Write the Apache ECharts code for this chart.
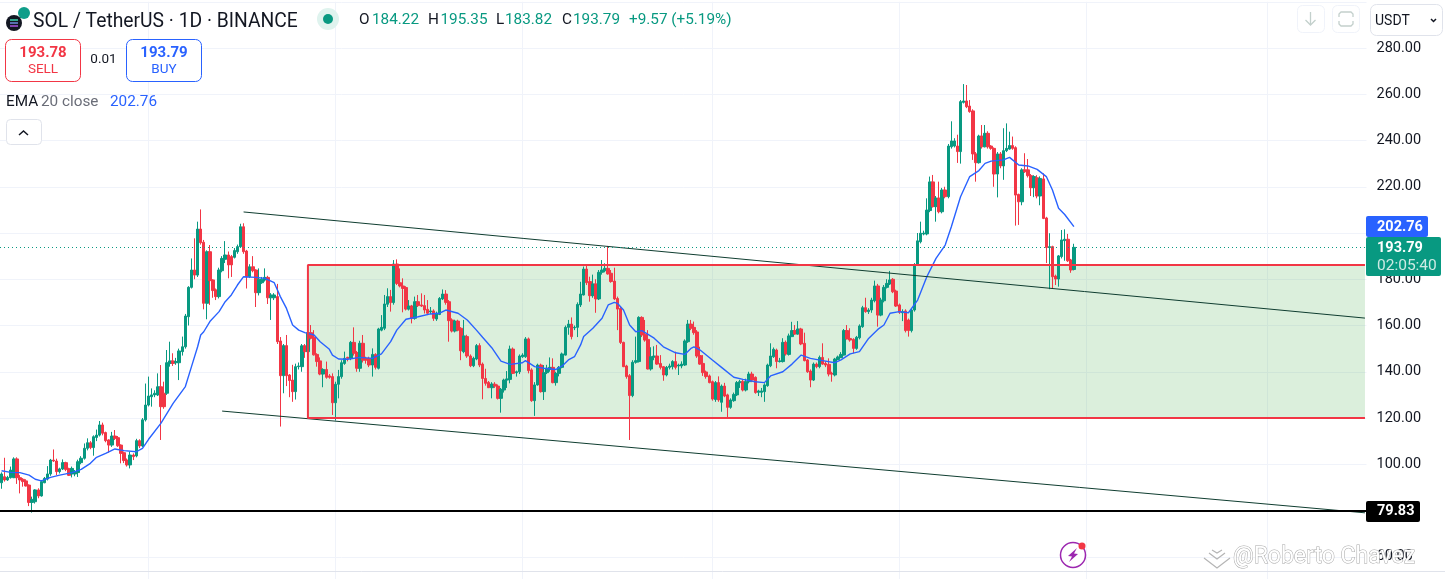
<!DOCTYPE html>
<html><head><meta charset="utf-8">
<style>html,body{margin:0;padding:0;background:#fff;overflow:hidden;width:1445px;height:579px}#c{width:1445px;height:640px}</style>
<script src="https://cdn.jsdelivr.net/npm/echarts@6/dist/echarts.min.js"></script>
</head><body><div id="c"></div>
<script>
// rows are [open, high, low, close]
const candlesJanFeb=[[92,96.5,89.4,95.8],[94.6,102.8,92.5,93.2],[93.2,95,92.8,94.3],[94.2,99,93.8,97.5],[94.2,103,94,102.3],[102.3,103,91.5,94.2],[94.2,95.3,87.4,93.2],[93.5,94,90.3,92.5],[92.8,93.5,90.4,90.6],[91,91.3,81.9,83.5],
[83.5,86,79.1,84.8],[83.8,89.2,83,88.9],[88.9,89.6,85.3,86.3],[86.3,93.2,86,92.5],[92,94.5,91.8,93.9],[93.6,99.2,93,95.8],[95.8,102.3,95,101.8],[101.8,106.4,101,101.4],[101.4,102.4,95.3,96.8],[96.8,98.5,96,98],
[98,102.1,97.5,100.7],[100.7,101.1,97,97.8],[98.1,98.5,94.9,95.2],[95.8,99,94.3,98.2],[95.8,97.5,94.8,96.4],[96.4,102,94.5,101.1],[100.7,103.5,100,102.6],[102.6,109,102,106.9],[106.9,111.2,106,109.3],[109.3,110,106.5,107.2],
[107.2,112.5,103.7,111.9],[111.6,115,110,112.6],[112.6,118.7,112,117],[117,118,112.5,113.4],[113.7,114.1,109.5,110.2],[110.5,110.8,105,108.3],[108.3,114,107.5,112.2],[112.2,114.8,110.5,111.2],[111.5,112.2,107.5,108],[108.3,108.6,100.4,104.7],
[105,105.5,100.5,101.6],[101.8,102.5,99,99.7],[99.7,105.4,98.2,104],[104,104.7,101.8,103.3],[103.6,111,103,110.2],[110.2,110.8,107,107.9],[107.9,120,107.5,119.2],[119.2,134.9,118.5,125.6]];
const candlesMarApr=[[125.6,137.9,125,129.5],[129.2,132.8,124.9,130],[130,132,129,130.7],[130,139.3,129.5,133.5],[133.5,142.9,110.5,124.9],[130.7,135.7,124,124.9],[130.7,149.4,130,143.9],[143.6,153,142.2,144.7],[144.7,148,142.5,143.6],[143.9,146,143,144.4],
[143.9,150,136.4,149],[148.7,155.2,147,150.8],[150.8,165,150,164.1],[163.8,177,160,176.5],[176.5,189,176,184],[184,197.7,180,181.8],[181.8,204.9,181,201.7],[201.7,210.2,195,195.8],[196,197,167,169.6],[169.6,192.5,162.7,191.9],
[191.9,194.8,168.9,179.4],[179.7,180,172,175.1],[175.4,176,171,172.5],[172.5,185,171.7,184],[183.7,190,183,189],[188.6,196.5,187,190.5],[190.5,192,180.4,186.2],[189.8,190.5,181,186.2],[189.5,193.5,189,192.4],[191.9,195,191,194.1],
[194.1,204,193.5,202.7],[202.7,204.2,191,191.9],[192.2,192.7,176,181.1],[181.1,186.5,180.5,185.4],[185.4,190,183,183.7],[184,184.3,168,174.2],[174.2,184.7,173,180],[178.5,181,178,180],[179.7,184.7,179,180.8],[180.8,181.5,169.3,172],
[172,174,162.4,173.2],[172,174,171,173.2],[172.5,178,152,153],[153.3,155,116.3,138.3],[138.3,152,130.7,151.3],[151.3,155.9,133.8,138.3],[138.6,139,129,136.2],[136.4,143,127,131.4],[131.4,143.5,128,142.2],[142.2,144,141,142.5],
[142.2,152,140,151.2],[151.2,152,146,148.7],[148.7,158,148,156.9],[156.9,160.2,154,154.5],[154.9,158,147,147.3],[147.5,148,142.2,144.4],[144.7,146.2,138.5,139],[139,141.5,133.3,141],[141,144.4,137,137.6],[138.2,139,137,137.6],[137.9,139.3,121.3,126.6]];
const candlesMayJun=[[126.6,135.7,118.9,134.6],[134.6,140.8,128.5,137.9],[137.9,145,137,143.9],[143.6,148.7,143,145.8],[146.2,146.5,144.5,145.8],[145.8,153.3,145,152.7],[152.7,159.2,147,148],[148.3,149,140,141.5],[141.5,153.4,140,152.3],[152.3,155.9,144,145],
[145.8,146.5,143.5,145],[145.8,146.5,142,142.9],[142.9,150.1,137.9,147.5],[147.5,148,141,141.9],[141.5,159,141,158.5],[158,164.5,157.5,159.2],[158.8,173.2,158,169.3],[169.2,176.1,168,172.5],[172.5,175.4,166,169.9],[169.9,188.3,169,186.6],
[186.6,188.6,177.5,178.2],[178.5,184.7,176.5,177.1],[177.1,180.4,165.7,176],[176.4,177,166.5,167.1],[167.1,171,166.5,168.4],[168.4,168.9,160.9,163.1],[163.1,172.5,162.5,170.3],[170.3,173.2,168,168.6],[168.9,173.9,168,168.4],[168.6,173.2,165.2,166.7],
[167,171,164.5,165.3],[165.9,168,165,166.3],[166.3,167,162,163.1],[162.8,166,162,165.3],[164.8,172.3,164.5,171.7],[171.5,175.6,171,173.6],[173.6,175.3,169,170],[170.3,171,153,162.1],[162.4,163.1,157,157.6],[157.6,162.5,157,161.9],
[161.9,162.5,157.5,158],[158.8,159.3,145,149.1],[148.7,162.4,148,155.5],[155.2,156,146,146.8],[146.8,147.5,142,142.6],[142.6,146.5,142,145.8],[145.5,152,145,151.3],[151.3,152.3,142,142.9],[143.3,144,128.1,137.1],[137.1,141.3,134,135],
[135.4,136,133,133.1],[133.1,135.5,128.5,134.7],[134.6,135.5,133,133.8],[133.8,134.5,128,128.5],[128.5,133,122.3,132.4],[132.1,137,131,136.4],[136.4,140.3,133,136.9],[136.7,151.3,135,149.8],[149.8,150.5,139,139.3],[139.6,140.5,137.9,140],[140,147.5,139,146.8]];
const candlesJulAug=[[146.5,148,146,147.2],[146.5,155,146,154.2],[154.2,154.8,139.3,140.5],[140.8,141.5,127,127.5],[127.5,135.5,120.9,134.3],[134.3,143.5,134,142.9],[142.9,143.5,131,131.4],[131.4,142.9,127.8,139.6],[139.6,143,139,141.5],[141,146.2,140,141.9],
[141.9,145.8,135,135.3],[135.3,140,134,139.3],[139.3,142.5,138,141.9],[141.9,148.3,141.5,147.7],[147.2,160,147,159.2],[159.2,162.4,156,160.6],[160.6,163.5,154,155.2],[159,160,158,159.2],[159.2,170,155,169.1],[168.9,178.9,168,173.6],
[173.2,185.5,173,184.4],[184.4,186,177.5,178.5],[179,181.1,170.3,172.9],[172.9,182,172,178],[178,180,165.5,171.5],[171.5,184,171,183],[183,188.3,182,184],[183.7,186.9,183,184.7],[184.7,194.4,182,182.3],[182.6,184,178.5,179],
[179.2,185,171,171.5],[171.7,172.5,158,167.1],[167.4,168,152,152.7],[152.7,153,142,142.2],[142.5,143,137,137.9],[138.3,139,110.5,129.7],[129.7,145,129,144.1],[144.1,155.2,143.5,144.8],[144.4,164,144,163.5],[163.5,164,155,155.9],
[156.2,162.4,153,153.7],[154,158,141,141.2],[141.2,150.6,140.5,146.5],[146.3,151,145,146.8],[146.8,151.6,143,143.3],[143.6,147.2,141,141.9],[142.2,142.5,136.1,138.6],[138.6,142.5,138,141.9],[141.9,143.5,141,142.5],[142.2,145,141,144.4],
[144.4,148.7,141,141.9],[142.5,143.5,138.6,142.9],[142.5,144.5,141.5,143.3],[142.9,154,142.5,153.3],[153,162.4,152.5,160.6],[160.6,162.4,158,158.8],[159.2,161.7,156,156.9],[157.2,158,146,146.8],[147,150.8,143,143.3],[143.6,147.2,138.2,139.6],
[139.9,140.5,137,137.9],[138.2,138.8,135,135.3]];
const candlesSepOct=[[135.7,136.2,127.5,128.2],[128,136,127,135.3],[135.3,138,127,127.8],[126.8,134.5,122.7,133.8],[133.8,135.2,129,129.5],[130,130.5,120.3,124.6],[124.6,128.5,124,127.8],[127.5,131,127,130.2],[130,136,129.5,135.3],[135.3,136.5,133,135.7],
[135.7,136.5,131.5,132.1],[132.1,137,131.5,135.7],[135.7,140,135,139],[139,140,135.5,136.4],[137.6,138,130.5,131],[131.1,132.2,129.5,131.7],[131.1,133,129,131.7],[131.4,135,127,134.3],[134,143.5,133.5,142.9],[142.6,152.3,142,146.8],
[146.5,150.5,146,149.7],[149.4,150,141.5,144.4],[144.4,146,144,144.7],[144.4,154.5,144,152.7],[152.7,153.5,147,147.7],[147.5,156.5,147,155.5],[155.2,161.6,155,157.8],[157.8,160.2,156,156.3],[156.3,161.9,156,158.5],[158.5,159,151.5,152],
[152.3,156.9,144.5,144.8],[145.1,145.5,139.5,140],[140.3,141,133.3,136.4],[136.4,144,136,143.3],[143.3,144,141.5,142.2],[142.2,147,141.5,146.2],[146.2,152.3,143,143.3],[143.6,144.5,142,142.9],[143.2,145.8,138,139],[139.3,140,135.7,139],
[138.6,146,138,145.5],[145.3,147,145,146.4],[146.1,148.5,146,147.5],[147.2,158.5,147,157.8],[157.8,160.2,154,154.2],[154.4,158.8,153,153.7],[154,154.5,148,150.1],[150.1,155.5,149.5,154.9],[154.7,160.5,154,159.8],[159.5,168.5,159,167.7],
[167.7,172,165.5,166],[166,167.5,165,166.7],[166.7,172,165.5,171],[170.7,179.4,170,177.1],[177.1,178,159.5,164.5],[164.5,172,164,171],[170.7,177.5,170,176.5],[176.5,180,176,178.2],[178,183.6,177.5,179.7],[180,180.5,174,174.6],
[174.9,175.5,168,168.4]];
const candlesNovDec=[[168.9,169.5,165,165.7],[165.5,167,161.9,166],[166.3,167,157,157.8],[162.4,163,155.2,157.8],[157.8,167.5,157,166.7],[166.7,187,166,186.2],[186.4,200,186,196.6],[196.2,204.9,195.5,199.9],[199.6,201,199,199.9],[199.6,215,199,209.9],
[209.7,224.4,209,222.1],[222.1,225.1,211,211.4],[211.4,216,204.9,215.1],[215.1,222.2,208.5,209.2],[209.2,219.5,208.5,218.6],[218.6,220,215,215.7],[215.7,238.5,215,237.6],[237.3,248.3,236.5,239.8],[237.6,241,237,239.8],[237.6,242.5,230.3,235.2],
[235.2,257.5,230,256.8],[256.5,264.4,256,257.1],[257.1,264,254,254.6],[254.9,257.5,252,252.5],[252.8,253.5,231.6,234.2],[234.2,235,222.2,230.4],[230.4,242.5,230,241.9],[241.9,246.7,236.5,237.3],[237.3,246.7,237,243.1],[243.1,244,236.5,237.3],
[237.6,238,236,236.6],[236.6,237,220,225.5],[225.5,235,215.4,234.2],[234.2,235,228,229],[229,245.3,223,235.6],[235.6,247.4,235,236.6],[236.3,243.8,236,237.8],[237.8,241.7,236,236.6],[236.9,237.5,203.2,216.4],[216.7,217,203.5,213.5],
[213.5,228,212,227.3],[227.3,234.5,226,226.5],[227.3,232,224,224.8],[224.8,225.5,216,219.6],[219.6,225,215.5,224.4],[223.9,225,215,216],[216,224.5,212,223.6],[223.4,225.8,206,206.3],[206.5,207,187,193.7],[193.7,199.9,175.7,194.1],
[194.1,194.5,176,181.1],[181.4,182,177.5,180.1],[180.1,190.5,176.8,190.1],[189.8,201.3,189,197],[196.7,201.6,188,197.3],[197.3,199.6,187.5,188],[188.3,188.8,182.8,184],[184.22,195.35,183.82,193.79]];

const emaDays=[0,3,6,9,11,13,16,19,23,26,29,31,34,37,40,44,46,48,52,56,60,62,64,65,66,68,71,73,75,77,79,83,86,89,91,93,95,97,99,102,104,107,108,110,113,117,121,124,127,129,132,136,140,143,145,149,152,155,157,160,163,166,170,171,174,177,181,183,185,187,189,190,193,196,198,200,201,203,205,207,209,213,216,220,223,225,226,228,232,235,239,242,246,249,251,255,258,261,264,268,272,274,277,280,283,286,288,290,293,296,299,302,305,308,310,313,316,319,321,323,327,329,332,335,338,341,343,345,347,350];
const emaValues=[97.2,96.5,96.4,95.3,93.5,92.8,94.3,95.3,96.4,97.8,100.4,103,104.7,106.6,105.9,105.4,106.9,110.8,117.7,126.3,133.6,142.2,150.8,155.9,157.3,161.7,166,170.3,173.2,177.5,181.1,180.8,180.4,178.5,172.5,167.4,160.2,158,156.9,155.9,153,149.7,147.2,145.5,145.4,146.2,145.8,147.7,153,158,162.7,163.8,165,165.3,166.7,165.3,162.4,158,154.9,150.4,144.6,143.2,143.9,144.8,142.2,141.5,141,142.5,145.1,146.5,151.6,155.2,158.8,163.1,168.9,170,169.6,166.7,160.2,157.3,157.8,154.5,150.8,148.2,147.5,150.1,150.8,149.4,145.1,141.9,137.6,136.7,135.7,135.3,138.2,140,143.3,147.2,145.8,144.8,143.9,145.1,147.7,148.7,154.4,158.3,160.2,165.3,166,165.5,171,181.1,189,194.8,202.7,215.7,224.4,227,230.1,231.1,231.6,232.7,229.4,229,227.5,224.4,218.6,210.7,208,202.76];

const upperTrendDays=[79,445], upperTrendPrices=[209.1,163.2];
const lowerTrendDays=[72,445], lowerTrendPrices=[123,79];
const rangeDays=[445,100,100,445], rangePrices=[186.2,186.2,120,120];
const lastPrice=193.79, supportPrice=79.83, emaLast=202.76;
const monthStarts=['2024-03-01','2024-05-01','2024-07-01','2024-09-01','2024-11-01','2025-01-01','2025-03-01'];

const rows=[].concat(candlesJanFeb,candlesMarApr,candlesMayJun,candlesJulAug,candlesSepOct,candlesNovDec);
const dates=[];
for(let i=0;i<446;i++){const d=new Date(Date.UTC(2024,0,13+i));dates.push(d.toISOString().slice(0,10));}
const zip=(a,b)=>a.map((v,i)=>[v,b[i]]);
const F='Roboto, sans-serif';
const UP='#089981',DN='#f23645',BL='#2962ff',INK='#131722';
const txt=(x,y,text,o={})=>({type:'text',z:50,x,y:y+1,style:Object.assign({text,fill:INK,font:`15.3px ${F}`,textVerticalAlign:'middle',textAlign:'left'},o)});
const box=(x,y,w,h,r,fill,stroke)=>({type:'rect',z:49,shape:{x,y,width:w,height:h,r},style:{fill,stroke:stroke||null,lineWidth:1}});
const poly=(pts,stroke,w)=>({type:'polyline',z:51,shape:{points:pts},style:{stroke,lineWidth:w||1.5,fill:null}});

const graphics=[
 {type:'line',z:40,shape:{x1:0,y1:571.5,x2:1445,y2:571.5},style:{stroke:'#e0e3eb',lineWidth:1}},
 // header
 {type:'circle',z:50,shape:{cx:24,cy:13,r:6},style:{fill:'#0f9d8a'}},
 {type:'circle',z:51,shape:{cx:14,cy:23,r:8},style:{fill:'#131722'}},
 {type:'line',z:52,shape:{x1:10,y1:20,x2:18,y2:20},style:{stroke:'#3fd9b0',lineWidth:1.5}},
 {type:'line',z:52,shape:{x1:10,y1:23,x2:18,y2:23},style:{stroke:'#6f8fe0',lineWidth:1.5}},
 {type:'line',z:52,shape:{x1:10,y1:26,x2:18,y2:26},style:{stroke:'#a855e0',lineWidth:1.5}},
 txt(33,21,'SOL / TetherUS · 1D · BINANCE',{font:`19.3px ${F}`}),
 {type:'circle',z:50,shape:{cx:328,cy:19,r:11},style:{fill:'#dff3ee'}},
 {type:'circle',z:51,shape:{cx:328,cy:19,r:5},style:{fill:UP}},
 txt(359,19,'O'),txt(372,19,'184.22',{fill:UP}),
 txt(428,19,'H'),txt(440.5,19,'195.35',{fill:UP}),
 txt(496,19,'L'),txt(505,19,'183.82',{fill:UP}),
 txt(562,19,'C'),txt(573,19,'193.79',{fill:UP}),
 txt(629,19,'+9.57 (+5.19%)',{fill:UP}),
 box(5.5,39.5,75,42,6,'#fff',DN),
 txt(43,52,'193.78',{fill:DN,textAlign:'center',font:`bold 15px ${F}`}),
 txt(43,69,'SELL',{fill:DN,textAlign:'center',font:`13.5px ${F}`}),
 txt(103.5,59,'0.01',{textAlign:'center',font:`13.5px ${F}`}),
 box(126.5,39.5,75,42,6,'#fff',BL),
 txt(164,52,'193.79',{fill:BL,textAlign:'center',font:`bold 15px ${F}`}),
 txt(164,69,'BUY',{fill:BL,textAlign:'center',font:`13.5px ${F}`}),
 txt(6,101,'EMA'),txt(41,101,'20 close',{fill:'#6a6d78'}),txt(110,101,'202.76',{fill:BL}),
 box(6.5,119.5,35,25,4,'#fff','#e0e3eb'),
 poly([[19,135],[23.5,131],[28,135]],INK,1.5),
 // top right controls
 box(1297.5,5.5,27,27,5,'#fff','#f0f3fa'),
 poly([[1310.5,12],[1310.5,25]],'#c3d0cc',1.3),poly([[1305.5,20],[1310.5,25],[1315.5,20]],'#c3d0cc',1.3),
 box(1332.5,5.5,27,27,5,'#fff','#f0f3fa'),
 poly([[1339,17],[1339,14],[1341,12],[1351,12],[1353,14],[1353,17]],'#c3d0cc',1.3),
 poly([[1339,21],[1339,24],[1341,26],[1351,26],[1353,24],[1353,21]],'#c3d0cc',1.3),
 box(1370.5,4.5,72,31,6,'#fff','#e0e3eb'),
 txt(1375,20,'USDT',{font:`14px ${F}`}),
 poly([[1431,19],[1433.5,21.5],[1436,19]],INK,1.5),
 // axis price tags
 box(1366,216,62,21,2,BL),
 txt(1377,226,'202.76',{fill:'#fff',font:`bold 14.5px ${F}`}),
 box(1366,237,75,39,2,UP),
 txt(1377,247.5,'193.79',{fill:'#fff',font:`bold 14.5px ${F}`}),
 txt(1377,265,'02:05:40',{fill:'#cdeae4',font:`15.5px ${F}`}),
 box(1366,501,54,21,2,'#000'),
 txt(1377,510.5,'79.83',{fill:'#fff',font:`bold 14.5px ${F}`}),
 // lightning badge
 {type:'circle',z:50,shape:{cx:1073,cy:555,r:12.5},style:{fill:'#fff',stroke:'#9c27b0',lineWidth:1.5}},
 {type:'polygon',z:51,shape:{points:[[1077,548],[1068,556],[1072,556.5],[1069,562],[1078,554],[1074,553.5]]},style:{fill:'#9c27b0'}},
 {type:'circle',z:52,shape:{cx:1082,cy:546,r:3.5},style:{fill:'#f23645'}},
 // watermark
 poly([[1204,558],[1217,568],[1230,558]],'#b5b5b5',1.2),
 poly([[1209,553],[1217,559],[1225,553]],'#b5b5b5',1.2),
 poly([[1212,550],[1217,553],[1222,550]],'#b5b5b5',1.2),
 {type:'text',z:60,x:1233,y:557,style:{text:'@Roberto Chavez',font:`23px ${F}`,fill:'#ffffff',stroke:'#a8a8a8',lineWidth:1,textVerticalAlign:'middle'}}
];

const chart=echarts.init(document.getElementById('c'));
chart.setOption({
 animation:false,
 backgroundColor:'#fff',
 grid:{left:-1,top:1.75,width:1367.5,height:601.25,containLabel:false},
 xAxis:{type:'category',data:dates,boundaryGap:true,
  axisLine:{show:false},axisTick:{show:false},axisLabel:{show:false},
  splitLine:{show:true,alignWithLabel:true,interval:(i,v)=>monthStarts.includes(v),lineStyle:{color:'#f0f3fa',width:1}}},
 yAxis:{type:'value',position:'right',min:40,max:300,interval:20,
  axisLine:{show:false},axisTick:{show:false},
  axisLabel:{show:true,margin:10,padding:[3,0,0,0],showMinLabel:false,showMaxLabel:false,color:INK,fontFamily:F,fontSize:14.5,formatter:v=>v.toFixed(2)},
  splitLine:{show:true,lineStyle:{color:'#f0f3fa',width:1}}},
 graphic:{elements:graphics},
 series:[
  {type:'line',name:'range',z:4,silent:true,data:zip(rangeDays,rangePrices),showSymbol:false,lineStyle:{color:DN,width:2},
   markArea:{silent:true,z:1,itemStyle:{color:'rgba(76,175,80,0.2)'},
    data:[[{xAxis:dates[100],yAxis:rangePrices[0]},{xAxis:dates[445],yAxis:rangePrices[2]}]]}},
  {type:'candlestick',name:'SOL',z:2,silent:true,barWidth:3,
   data:rows.map(r=>[r[0],r[3],r[2],r[1]]),
   itemStyle:{color:UP,color0:DN,borderColor:UP,borderColor0:DN,borderWidth:1},
   markLine:{silent:true,symbol:'none',animation:false,label:{show:false},
    data:[{yAxis:lastPrice,lineStyle:{color:UP,type:[1,3],width:1}},{yAxis:supportPrice,lineStyle:{color:'#000',type:'solid',width:2}}]}},
  {type:'line',name:'EMA 20',z:3,silent:true,data:zip(emaDays,emaValues),showSymbol:false,lineStyle:{color:BL,width:1.4}},
  {type:'line',name:'upper trend',z:3,silent:true,data:zip(upperTrendDays,upperTrendPrices),showSymbol:false,lineStyle:{color:'#0f3d30',width:1}},
  {type:'line',name:'lower trend',z:3,silent:true,data:zip(lowerTrendDays,lowerTrendPrices),showSymbol:false,lineStyle:{color:'#0f3d30',width:1}}
 ]
});
</script></body></html>
